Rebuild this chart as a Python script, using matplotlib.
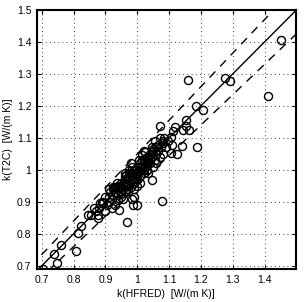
import matplotlib
matplotlib.use("Agg")
import matplotlib.pyplot as plt
import numpy as np

plt.rcParams['font.family'] = ['Liberation Sans', 'DejaVu Sans']

# Data (k(HFRED), k(T2C))
x_outer = [1.453, 1.41, 1.16, 1.276, 1.292, 1.184, 1.208, 1.152, 1.12, 1.154, 1.07,
           1.143, 1.162, 1.112, 1.107, 1.096, 1.08, 1.065, 1.141, 1.188, 1.126, 1.107,
           1.049, 1.047, 1.077, 0.967, 0.986, 0.998, 0.984, 0.991, 0.944, 0.891, 0.912,
           0.863, 0.845, 0.877, 0.856, 0.877, 0.824, 0.814, 0.806, 0.761, 0.740, 0.747,
           0.703, 0.882, 0.923, 0.929, 0.911, 1.108]
y_outer = [1.405, 1.231, 1.282, 1.288, 1.278, 1.201, 1.187, 1.157, 1.134, 1.136, 1.136,
           1.124, 1.124, 1.121, 1.102, 1.090, 1.084, 1.079, 1.074, 1.072, 1.050, 1.053,
           1.058, 0.969, 0.904, 0.838, 0.891, 0.891, 0.908, 0.916, 0.876, 0.896, 0.901,
           0.882, 0.859, 0.859, 0.859, 0.849, 0.823, 0.802, 0.747, 0.765, 0.738, 0.709,
           0.690, 0.896, 0.945, 0.945, 0.916, 1.077]

x_core = [0.93, 0.94, 0.945, 0.95, 0.955, 0.96, 0.935, 0.95, 0.96, 0.965,
          0.97, 0.975, 0.98, 0.985, 0.99, 0.97, 0.98, 0.99, 0.995, 1.0, 0.975, 0.965,
          0.985, 0.99, 1.0, 0.96, 0.98,
          1.005, 1.01, 1.015, 1.02, 1.025, 1.03, 1.01, 1.02, 1.03, 1.035, 1.04, 1.005,
          1.015, 1.025, 1.0, 1.01, 1.04, 1.035, 1.02,
          1.045, 1.05, 1.055, 1.06, 1.065, 1.07, 1.05, 1.06, 1.075, 1.08, 1.045, 1.055,
          1.085, 1.09, 1.07,
          0.88, 0.89, 0.9, 0.905, 0.915, 0.92, 0.925, 0.9, 0.87, 0.91, 0.94, 0.93,
          0.955, 0.92,
          0.945, 0.955, 0.965, 0.975, 0.985, 0.995, 1.005, 1.015, 1.025, 1.035,
          0.95, 0.96, 0.97, 0.98, 0.99, 1.0, 1.01, 1.02, 1.03, 1.04,
          0.925, 0.935, 0.94, 0.96, 0.975, 0.995, 1.015, 1.045, 1.06, 1.08]
y_core = [0.93, 0.95, 0.935, 0.96, 0.94, 0.97, 0.96, 0.925, 0.95, 0.93,
          0.975, 0.96, 0.99, 0.97, 1.0, 0.95, 0.945, 0.96, 0.985, 1.01, 1.0, 0.985,
          1.01, 0.94, 0.97, 0.99, 1.02,
          0.995, 1.02, 1.0, 1.03, 1.01, 1.04, 0.98, 0.99, 1.0, 1.025, 1.05, 1.03,
          1.045, 1.055, 0.95, 0.96, 1.02, 0.99, 1.06,
          1.04, 1.065, 1.03, 1.05, 1.06, 1.04, 1.01, 1.02, 1.07, 1.05, 1.07, 1.09,
          1.1, 1.07, 1.1,
          0.88, 0.9, 0.915, 0.89, 0.93, 0.91, 0.92, 0.87, 0.87, 0.94, 0.905, 0.89,
          0.91, 0.88,
          0.95, 0.955, 0.955, 0.98, 0.985, 0.975, 1.01, 1.01, 1.025, 1.035,
          0.915, 0.935, 0.94, 0.965, 0.975, 0.99, 0.995, 1.0, 1.015, 1.03,
          0.94, 0.945, 0.92, 0.98, 0.99, 1.0, 1.03, 1.055, 1.07, 1.09]

ref_ratios = [1.0, 1.05, 0.95]
ref_styles = ['-', '--', '--']

xticks = [0.7, 0.8, 0.9, 1.0, 1.1, 1.2, 1.3, 1.4]
yticks = [0.7, 0.8, 0.9, 1.0, 1.1, 1.2, 1.3, 1.4, 1.5]

fig = plt.figure(figsize=(3.04, 3.02), dpi=100)
ax = fig.add_axes([0.1217, 0.1093, 0.851, 0.8576])

xs = np.array(x_outer + x_core)
ys = np.array(y_outer + y_core)
ax.plot(xs, ys, 'o', mfc='none', mec='black', ms=5.8, mew=1.0, clip_on=True)

line_x = np.array([0.6, 1.6])
for r, ls in zip(ref_ratios, ref_styles):
    if ls == '--':
        ax.plot(line_x, r * line_x, color='black', lw=1.0, ls=(0, (6, 5)))
    else:
        ax.plot(line_x, r * line_x, color='black', lw=1.0, ls='-')

ax.set_xlim(0.685, 1.498)
ax.set_ylim(0.69, 1.5)
ax.set_xticks(xticks)
ax.set_yticks(yticks)
ax.set_xticklabels([f"{t:g}" for t in xticks])
ax.set_yticklabels([f"{t:g}" for t in yticks])
ax.grid(True, ls=(0, (1, 4)), color='black', lw=0.6)
ax.tick_params(direction='in', top=True, right=True, length=3, width=0.8,
               labelsize=7.5, pad=4)
for s in ax.spines.values():
    s.set_linewidth(1.5)

ax.set_xlabel("k(HFRED)  [W/(m K)]", fontsize=7.5, labelpad=3)
ax.set_ylabel("k(T2C)  [W/(m K)]", fontsize=7.5, labelpad=3)

fig.savefig("out.png", dpi=100)
